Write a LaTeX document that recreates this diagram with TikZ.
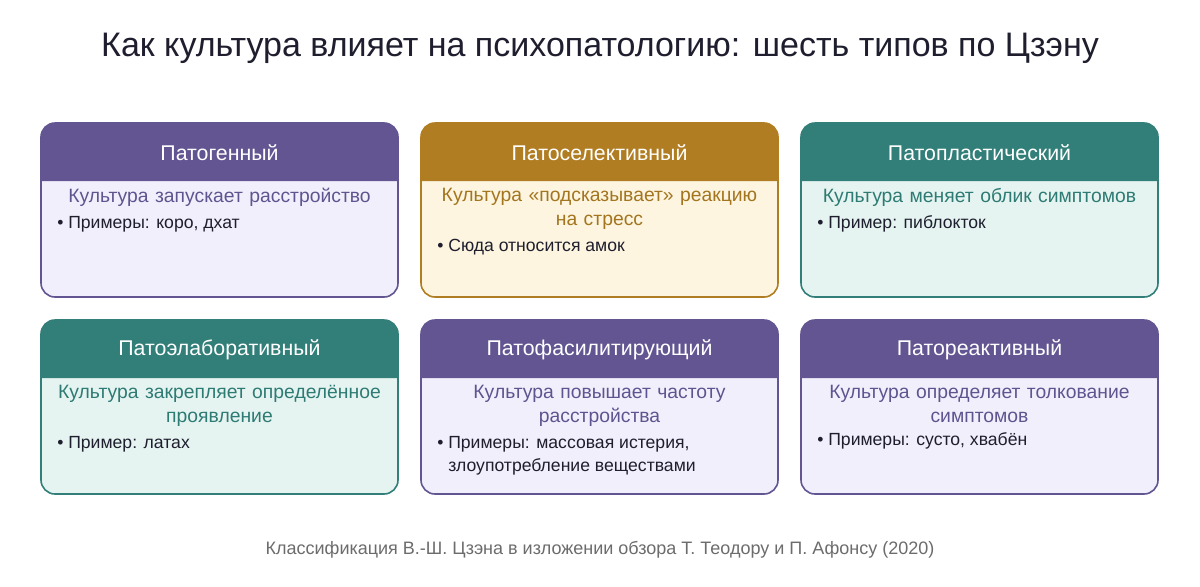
\documentclass[tikz,border=0pt]{standalone}
\usepackage{fontspec}
\setmainfont{Liberation Sans}
\definecolor{cpur}{HTML}{635592}
\definecolor{cgold}{HTML}{B07D22}
\definecolor{cteal}{HTML}{327E78}
\definecolor{fpur}{HTML}{F2EFFC}
\definecolor{fgold}{HTML}{FDF5DF}
\definecolor{fteal}{HTML}{E5F4F1}
\definecolor{tpur}{HTML}{5E5590}
\definecolor{tgold}{HTML}{A3751F}
\definecolor{tteal}{HTML}{2E7B74}
\definecolor{ink}{HTML}{1E1E2E}
\tikzset{
 htitle/.style={font=\fontsize{16pt}{19pt}\selectfont,text=white},
 sub/.style={font=\fontsize{14.5pt}{18pt}\selectfont,align=center,text width=268pt,anchor=north,inner sep=2pt},
 bul/.style={font=\fontsize{13.2pt}{17.3pt}\selectfont,align=left,text=ink,anchor=north west,inner sep=0pt},
}
% #1 name #2 x #3 y #4 color #5 fill #6 textcolor #7 title #8 sub #9 bullets
\newcommand{\mycard}[9]{%
 \fill[#5,rounded corners=10.5pt] (#2,#3) rectangle ++(357,174);
 \fill[#4] (#2,#3+58) [rounded corners=10.5pt] -- (#2,#3) -- (#2+357,#3) [sharp corners] -- (#2+357,#3+58) -- cycle;
 \draw[#4,line width=1.2pt,rounded corners=10.5pt] (#2,#3) rectangle ++(357,174);
 \node[htitle] (#1h) at (#2+178.5,#3+30) {#7};
 \node[sub,text=#6] (#1s) at (#2+178.5,#3+62) {#8};
 \coordinate (#1x) at (#2+16,#3);
 \node[bul] (#1c) at ([yshift=-5pt]#1x |- #1s.south) {#9};
}
\begin{document}
\begin{tikzpicture}[x=0.75pt,y=-0.75pt]
\useasboundingbox[fill=white] (0,0) rectangle (1200,586);
\node[font=\fontsize{25.5pt}{30pt}\selectfont,text=ink] (title) at (600,48) {Как культура влияет на психопатологию: шесть типов по Цзэну};
\mycard{a}{41}{123}{cpur}{fpur}{tpur}{Патогенный}{Культура запускает расстройство}{• Примеры: коро, дхат}
\mycard{b}{421}{123}{cgold}{fgold}{tgold}{Патоселективный}{Культура «подсказывает» реакцию\\на стресс}{• Сюда относится амок}
\mycard{c}{801}{123}{cteal}{fteal}{tteal}{Патопластический}{Культура меняет облик симптомов}{• Пример: пиблокток}
\mycard{d}{41}{320}{cteal}{fteal}{tteal}{Патоэлаборативный}{Культура закрепляет определённое\\проявление}{• Пример: латах}
\mycard{e}{421}{320}{cpur}{fpur}{tpur}{Патофасилитирующий}{Культура повышает частоту\\расстройства}{• Примеры: массовая истерия,\\\hphantom{• }злоупотребление веществами}
\mycard{f}{801}{320}{cpur}{fpur}{tpur}{Патореактивный}{Культура определяет толкование\\симптомов}{• Примеры: сусто, хвабён}
\node[font=\fontsize{13.5pt}{16pt}\selectfont,text=gray!85!black] (foot) at (600,550) {Классификация В.-Ш. Цзэна в изложении обзора Т. Теодору и П. Афонсу (2020)};
\end{tikzpicture}
\end{document}
